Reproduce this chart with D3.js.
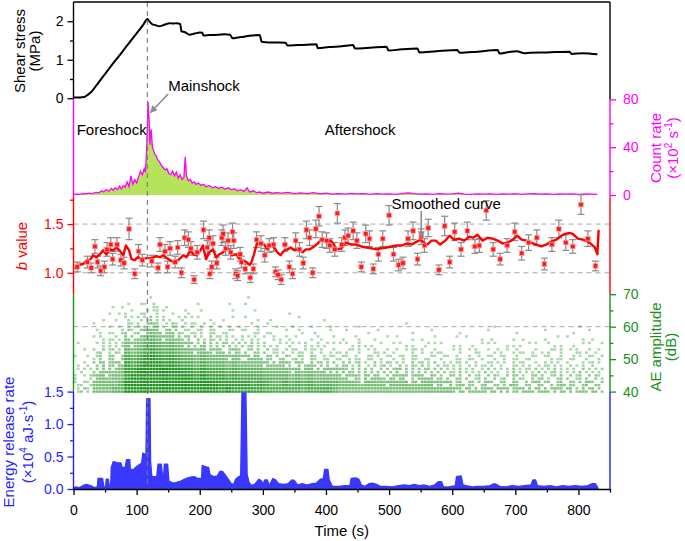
<!DOCTYPE html>
<html>
<head>
<meta charset="utf-8">
<script src="https://cdn.jsdelivr.net/npm/d3@7"></script>
<style>
  body { margin: 0; background: #fff; }
  svg { display: block; font-family: Arial, "Liberation Sans", sans-serif; }
</style>
</head>
<body>
<svg id="chart"></svg>
<script>
"use strict";

// ---- data ----
const mainshockTime = 117;

// shear stress (MPa)
const stressTime = [0,10,17,21,25,30,37,50,63,77,90,104,111,117,120,125,130,136,144,152,158,163,169,171,176,184,192,200,204,206,215,230,240,248,252,258,270,283,295,298,310,325,336,339,355,370,385,387,405,425,443,446,470,496,499,520,545,548,575,608,612,640,672,675,690,702,715,723,750,786,789,807,830];
const stressValue = [0.02,0.02,0.03,0.07,0.12,0.2,0.35,0.63,0.91,1.2,1.48,1.77,1.92,2.06,2.0,1.92,1.9,1.87,1.91,1.95,1.94,1.95,1.93,1.74,1.72,1.65,1.68,1.71,1.7,1.63,1.64,1.65,1.66,1.65,1.56,1.57,1.6,1.63,1.64,1.47,1.45,1.45,1.44,1.37,1.38,1.39,1.4,1.3,1.33,1.35,1.38,1.29,1.31,1.34,1.24,1.27,1.29,1.19,1.22,1.25,1.18,1.21,1.25,1.16,1.2,1.22,1.17,1.18,1.19,1.21,1.15,1.17,1.14];

// AE count rate (x10^2 /s)
const countTime = [0,5,10,15,20,25,30,35,40,45,48,52,56,60,63,66,70,73,76,79,82,85,88,91,94,97,100,103,106,109,112,114,116,117,118,119,120,121,122,123,124,125,127,129,131,133,136,139,142,145,148,151,154,157,160,163,166,169,172,175,177,179,182,185,188,191,194,198,202,206,210,215,220,225,230,235,240,245,250,255,260,265,270,275,279,285,290,295,300,308,315,322,330,340,350,360,370,380,390,400,410,420,430,440,450,460,470,480,490,500,510,520,530,540,550,560,570,580,590,600,610,620,630,640,650,660,670,680,690,700,710,720,730,740,750,760,770,780,790,800,810,820,830];
const countRate = [0.5,0.8,0.6,1.2,1.0,1.5,1.2,2.2,1.8,3.5,2.5,4.5,3.2,5.5,4.0,6.0,4.5,7.5,5.0,8.0,6.5,11,7,16,9,13,10,15,20,17,22,19,40,55,78,70,60,42,50,55,48,40,37,34,33,30,28,25,23,21,22,18,17,20,16,19,14,17,13,15,32,16,12,13,10,11,9,10,8,9,7,8,6,7,5.5,6.5,5,6,4.5,5,3.5,4.5,3,6,2.5,3.5,2,2.5,1.5,2.5,1.5,2,1.5,2.2,1.2,1.8,1.2,2,1,1.5,0.8,1.2,0.7,1.3,0.9,1.1,0.6,1.2,0.8,1.0,0.6,1.1,1.8,1.2,0.8,0.9,0.6,1.1,0.8,1.0,1.6,0.8,0.6,1.0,0.7,0.9,0.6,1.0,0.7,1.1,0.6,0.9,1.2,0.7,1.0,0.6,0.9,0.7,1.0,0.6,0.9,0.8,0.6];

// b value points with error
const bTime = [6,22,28,34,38,43,49,53,59,62,69,75,80,88,97,103,109,124,134,137,145,149,153,161,165,171,176,182,186,191,196,206,212,215,216,219,221,227,235,237,241,245,249,252,254,257,260,264,266,272,280,285,290,297,303,310,317,320,324,329,335,342,347,352,358,364,369,374,379,384,389,394,401,406,414,418,425,430,435,443,449,456,463,469,475,483,490,500,507,515,522,530,538,545,551,556,562,579,588,596,604,614,624,636,643,654,665,676,687,699,710,721,734,746,758,769,780,791,804,815,827];
const bValue = [1.06,1.11,1.05,1.27,1.11,1.02,1.06,1.24,1.29,1.14,1.29,1.13,1.10,1.45,0.99,1.22,1.13,1.12,1.05,1.29,1.22,1.06,1.25,1.11,1.26,1.00,1.36,1.34,1.25,0.93,1.21,1.44,1.26,1.36,0.99,1.06,1.30,1.10,1.36,1.40,1.25,1.33,1.21,1.42,1.33,0.99,0.97,1.19,1.11,1.04,0.95,1.04,1.34,1.30,1.18,1.28,1.29,1.01,0.98,0.93,1.29,1.06,0.99,1.33,1.24,1.10,1.44,1.36,1.00,1.45,1.58,1.34,1.33,1.28,1.24,1.61,1.29,1.36,1.38,1.43,1.33,1.06,1.40,1.35,1.04,1.19,1.35,1.59,1.19,1.08,1.10,1.35,1.43,1.14,1.37,1.28,1.46,1.03,1.48,1.11,1.42,1.24,1.43,1.27,1.28,1.64,1.24,1.14,1.28,1.42,1.20,1.31,1.36,1.09,1.29,1.45,1.31,1.27,1.70,1.35,1.07];
const bError = [0.05,0.06,0.05,0.07,0.06,0.05,0.06,0.07,0.07,0.06,0.07,0.06,0.06,0.11,0.05,0.07,0.06,0.06,0.05,0.07,0.07,0.06,0.07,0.06,0.07,0.05,0.08,0.08,0.07,0.04,0.07,0.09,0.07,0.08,0.05,0.06,0.08,0.06,0.08,0.09,0.07,0.08,0.07,0.09,0.08,0.05,0.05,0.07,0.06,0.05,0.05,0.05,0.08,0.08,0.07,0.07,0.07,0.05,0.05,0.05,0.07,0.06,0.05,0.08,0.07,0.06,0.09,0.08,0.05,0.09,0.1,0.08,0.08,0.07,0.07,0.1,0.07,0.08,0.08,0.09,0.08,0.05,0.09,0.08,0.05,0.07,0.08,0.1,0.07,0.06,0.06,0.08,0.09,0.06,0.08,0.07,0.09,0.05,0.1,0.06,0.09,0.07,0.09,0.07,0.07,0.1,0.07,0.06,0.07,0.09,0.07,0.08,0.08,0.06,0.07,0.09,0.08,0.07,0.1,0.08,0.05];

// smoothed b value curve
const smoothTime = [2,7.5,15,22,27,31,36,42,47,52,58,63,68,73,79,83,88,92,97,102,108,116,124,131,137,142,150,158,166,174,179,185,190,195,201,205,210,215,221,226,231,237,242,246,251,258,263,268,274,279,282,286,291,297,302,307,312,318,323,328,334,339,344,350,355,363,368,374,379,387,392,397,402,408,413,418,424,429,432,440,448,456,464,472,480,488,496,504,512,520,528,536,544,550,555,561,567,574,581,589,596,603,611,619,627,633,640,648,656,664,672,680,688,696,703,710,718,725,733,741,749,757,765,773,779,786,791,799,807,815,821,826,830,832];
const smoothValue = [1.04,1.08,1.09,1.13,1.14,1.18,1.16,1.19,1.23,1.19,1.24,1.23,1.26,1.23,1.18,1.28,1.23,1.14,1.13,1.16,1.14,1.15,1.15,1.17,1.16,1.18,1.14,1.11,1.13,1.18,1.16,1.23,1.19,1.18,1.23,1.28,1.14,1.21,1.24,1.16,1.19,1.21,1.26,1.24,1.18,1.19,1.14,1.13,1.11,1.08,1.11,1.19,1.31,1.29,1.29,1.24,1.29,1.26,1.21,1.18,1.23,1.24,1.26,1.23,1.24,1.21,1.24,1.24,1.26,1.30,1.34,1.33,1.31,1.33,1.28,1.24,1.25,1.29,1.31,1.29,1.29,1.27,1.26,1.25,1.24,1.25,1.26,1.27,1.28,1.28,1.30,1.29,1.32,1.34,1.31,1.29,1.33,1.33,1.29,1.33,1.38,1.34,1.35,1.33,1.37,1.36,1.39,1.33,1.36,1.35,1.33,1.30,1.31,1.34,1.38,1.34,1.33,1.31,1.29,1.27,1.29,1.32,1.34,1.38,1.40,1.41,1.40,1.35,1.34,1.32,1.29,1.26,1.19,1.44];

// AE amplitude: hit density per 10 s bin (columns) and 2 dB band (rows, top = 68 dB)
const ampLevels = [68,66,64,62,60,58,56,54,52,50,48,46,44,42,40];
const ampBin = 10;
const ampRows = [
  "000|00000|000|010|0000|00000|0000100|000000000000|000000000000000000|0000000000000000000000000",
  "000|00011|101|121|1000|01000|0100100|000000000000|000000000000000000|0000000000000000000000000",
  "000|00101|111|212|1101|10100|0010010|000010000000|000000000000000000|0000000000000000000000000",
  "000|01010|212|232|2112|11010|1010101|010001000100|000000000000000000|0000000000000000000000000",
  "000|10101|222|343|2322|21211|1101011|101010010010|000100000010000000|0000001000000000000010000",
  "000|11112|323|454|3432|22222|1211112|110101101010|010010100001001000|0100010000100010000101000",
  "000|12121|434|565|4543|33232|2222121|121111011101|101101010101010100|1010101001010010101010100",
  "100|12222|545|676|5654|43433|3323232|212121212111|111211101111011110|1101111011101101110111010",
  "010|23232|656|787|6765|54544|4343333|322222221212|121212121112121210|1212111211211112121212110",
  "101|23333|767|898|7876|65655|5454444|333323232222|222122212122212121|2121212121212112121212120",
  "111|34344|878|999|8987|76766|6565555|444434343333|332323232323232322|2222122212221222212121210",
  "121|34445|889|999|9998|87877|7676666|555545454444|433333333433333332|2322232223222322322232220",
  "212|45455|899|999|9999|98988|8787777|666656565555|444344434443444333|3332333233323332333233320",
  "222|55556|999|999|9999|99999|8888878|766767676666|555455545554455444|3433343334333433343334330",
  "232|55566|999|999|9999|99999|8988888|777777677776|555555555555555555|4444444443444443444343430"
].map(r => r.replace(/\|/g, ""));

// energy release rate (x10^4 aJ/s)
const energyTime = [0,3,10,15,20,27,33,38,39,46,48,51,52,55,57,59,60,63,70,75,77,82,84,89,90,96,98,104,108,110,114,115,116,121,122,124,132,134,139,141,143,144,149,151,158,163,170,178,185,191,197,203,204,210,214,216,222,228,232,236,240,245,250,254,257,262,265,266,267,273,275,278,282,288,294,298,300,303,307,310,316,320,325,333,340,346,350,355,362,370,378,385,391,396,398,403,405,410,420,430,438,440,447,452,456,462,468,474,480,486,495,505,515,525,532,540,548,556,564,572,578,583,586,595,605,607,614,617,622,632,640,650,660,666,670,675,685,695,705,715,725,728,732,735,745,755,765,775,785,795,805,815,822,827,831];
const energyRate = [0.01,0.03,0.02,0.05,0.07,0.05,0.02,0.03,0.16,0.16,0.03,0.03,0.15,0.15,0.03,0.03,0.33,0.42,0.40,0.40,0.33,0.33,0.45,0.45,0.30,0.30,0.33,0.37,0.40,0.55,0.53,0.53,1.39,1.39,0.42,0.19,0.19,0.38,0.38,0.20,0.20,0.38,0.38,0.12,0.09,0.10,0.12,0.16,0.18,0.19,0.16,0.16,0.36,0.34,0.33,0.22,0.19,0.20,0.27,0.27,0.22,0.15,0.08,0.07,0.15,0.19,0.20,0.82,1.48,1.48,0.22,0.10,0.05,0.08,0.15,0.12,0.06,0.14,0.14,0.05,0.16,0.14,0.08,0.07,0.08,0.14,0.13,0.06,0.08,0.06,0.08,0.09,0.15,0.16,0.30,0.30,0.14,0.04,0.04,0.05,0.05,0.16,0.17,0.15,0.06,0.04,0.08,0.09,0.07,0.04,0.04,0.03,0.05,0.06,0.05,0.07,0.05,0.06,0.04,0.06,0.11,0.11,0.03,0.03,0.05,0.19,0.20,0.06,0.05,0.03,0.04,0.04,0.05,0.08,0.07,0.04,0.03,0.05,0.04,0.05,0.06,0.14,0.14,0.05,0.04,0.05,0.03,0.05,0.04,0.05,0.04,0.05,0.08,0.08,0.01];

// ---- layout ----
const width = 685;
const height = 541;
const margin = { top: 2, right: 75, bottom: 52, left: 73.5 };
const panelH = (height - margin.top - margin.bottom) / 5;
const panelTop = (i) => margin.top + i * panelH;
const panelRange = (i) => [panelTop(i) + panelH, panelTop(i)];
const x0 = margin.left, x1 = width - margin.right;
const yBottom = height - margin.bottom;

const FONT = 'Arial, "Liberation Sans", sans-serif';
const BLACK = "#000", MAGENTA = "#ff00ff", RED = "#ff0000", GREEN = "#1b8f1b", BLUE = "#1f1fff";

const x = d3.scaleLinear().domain([0, 850]).range([x0, x1]);
const yStress = d3.scaleLinear().domain([-0.03, 2.5]).range(panelRange(0));
const yCount = d3.scaleLinear().domain([-1.5, 80]).range(panelRange(1));
const yB = d3.scaleLinear().domain([0.78, 1.78]).range(panelRange(2));
const yAmp = d3.scaleLinear().domain([40, 70]).range(panelRange(3));
const yE = d3.scaleLinear().domain([0, 1.5]).range(panelRange(4));

const svg = d3.select("#chart").attr("width", width).attr("height", height);

// ---- dashed guides ----
const guides = svg.append("g").attr("stroke", "#a8a8a8").attr("stroke-dasharray", "5,4").attr("stroke-width", 1);
[1.0, 1.5].forEach((v) => guides.append("line").attr("x1", x0).attr("x2", x1).attr("y1", yB(v)).attr("y2", yB(v)));
guides.append("line").attr("x1", x0).attr("x2", x1).attr("y1", yAmp(60)).attr("y2", yAmp(60));

// ---- AE amplitude scatter ----
// density digit -> how many of the 4 slots of a cell get a hit, and their opacity
const slotCount = [0, 1, 2, 2, 3, 4, 4, 4, 4, 4];
const slotAlpha = [0, 0.35, 0.38, 0.48, 0.55, 0.6, 0.7, 0.8, 0.9, 1.0];
const subT = [2.5, 7.5, 7.5, 2.5];
const subA = [0, 1, 0, 1];
const hits = [];
ampRows.forEach((row, ri) => {
  for (let ci = 0; ci < row.length; ci++) {
    const d = +row[ci];
    if (!d) continue;
    const start = (ci * 5 + ri * 3 + ci * ri + (ci >> 2)) % 4;
    for (let k = 0; k < slotCount[d]; k++) {
      const s = (start + k * 3) % 4;
      hits.push({ t: ci * ampBin + subT[s], a: ampLevels[ri] + subA[s], d });
    }
  }
});
svg.append("g")
  .selectAll("rect")
  .data(hits)
  .join("rect")
  .attr("x", (d) => x(d.t) - 1.45)
  .attr("y", (d) => yAmp(d.a) - 1.2)
  .attr("width", 2.9)
  .attr("height", 2.4)
  .attr("fill", "#179017")
  .attr("fill-opacity", (d) => slotAlpha[d.d]);

// ---- count rate ----
const countData = countTime.map((t, i) => ({ t, v: countRate[i] }));
svg.append("path")
  .datum(countData)
  .attr("fill", "#b5e35a")
  .attr("d", d3.area().x((d) => x(d.t)).y0(yCount(0)).y1((d) => yCount(d.v)));
svg.append("path")
  .datum(countData)
  .attr("fill", "none")
  .attr("stroke", MAGENTA)
  .attr("stroke-width", 1.3)
  .attr("d", d3.line().x((d) => x(d.t)).y((d) => yCount(d.v)));

// ---- shear stress ----
svg.append("path")
  .datum(stressTime.map((t, i) => ({ t, v: stressValue[i] })))
  .attr("fill", "none")
  .attr("stroke", BLACK)
  .attr("stroke-width", 2)
  .attr("stroke-linejoin", "round")
  .attr("d", d3.line().curve(d3.curveMonotoneX).x((d) => x(d.t)).y((d) => yStress(d.v)));

// ---- b value ----
const bData = bTime.map((t, i) => ({ t, v: bValue[i], e: bError[i] }));
const eb = svg.append("g").attr("stroke", "#8a8a8a").attr("stroke-width", 1.2);
eb.selectAll("line.bar").data(bData).join("line").attr("class", "bar")
  .attr("x1", (d) => x(d.t)).attr("x2", (d) => x(d.t))
  .attr("y1", (d) => yB(d.v - d.e)).attr("y2", (d) => yB(d.v + d.e));
eb.selectAll("line.capHi").data(bData).join("line").attr("class", "capHi")
  .attr("x1", (d) => x(d.t) - 3.5).attr("x2", (d) => x(d.t) + 3.5)
  .attr("y1", (d) => yB(d.v + d.e)).attr("y2", (d) => yB(d.v + d.e));
eb.selectAll("line.capLo").data(bData).join("line").attr("class", "capLo")
  .attr("x1", (d) => x(d.t) - 3.5).attr("x2", (d) => x(d.t) + 3.5)
  .attr("y1", (d) => yB(d.v - d.e)).attr("y2", (d) => yB(d.v - d.e));

svg.append("path")
  .datum(smoothTime.map((t, i) => ({ t, v: smoothValue[i] })))
  .attr("fill", "none")
  .attr("stroke", RED)
  .attr("stroke-width", 2.4)
  .attr("stroke-linejoin", "round")
  .attr("d", d3.line().x((d) => x(d.t)).y((d) => yB(d.v)));

svg.append("g")
  .selectAll("rect")
  .data(bData)
  .join("rect")
  .attr("x", (d) => x(d.t) - 2.3)
  .attr("y", (d) => yB(d.v) - 2.3)
  .attr("width", 4.6)
  .attr("height", 4.6)
  .attr("fill", "#ff1a1a")
  .attr("stroke", "#ffa0a0")
  .attr("stroke-width", 0.8);

// ---- energy release rate ----
svg.append("path")
  .datum(energyTime.map((t, i) => ({ t, v: energyRate[i] })))
  .attr("fill", "#3838ff")
  .attr("stroke", "#3838ff")
  .attr("stroke-width", 1.5)
  .attr("stroke-linejoin", "round")
  .attr("d", d3.area().x((d) => x(d.t)).y0(yE(0)).y1((d) => yE(d.v)));

// ---- mainshock line ----
svg.append("line")
  .attr("x1", x(mainshockTime)).attr("x2", x(mainshockTime))
  .attr("y1", margin.top).attr("y2", yBottom)
  .attr("stroke", "#7a7a7a").attr("stroke-width", 1.1).attr("stroke-dasharray", "5,4");

// ---- axes ----
function sideAxis(side, scale, color, major, minor, fmt) {
  const xPos = side === "left" ? x0 : x1;
  const make = side === "left" ? d3.axisLeft : d3.axisRight;
  const [ya, yb] = scale.range();
  svg.append("line").attr("x1", xPos).attr("x2", xPos).attr("y1", ya).attr("y2", yb)
    .attr("stroke", color).attr("stroke-width", 1.4);
  if (!major) return;
  const g = svg.append("g").attr("transform", `translate(${xPos},0)`)
    .call(make(scale).tickValues(major).tickSize(6).tickPadding(side === "left" ? 4 : 7).tickFormat(fmt));
  g.select(".domain").remove();
  g.attr("color", color).attr("font-size", 14).attr("font-family", FONT);
  g.selectAll("line").attr("stroke-width", 1.3);
  const gm = svg.append("g").attr("transform", `translate(${xPos},0)`)
    .call(make(scale).tickValues(minor).tickSize(3.5).tickFormat(""));
  gm.select(".domain").remove();
  gm.attr("color", color).selectAll("line").attr("stroke-width", 1.3);
}
const f0 = d3.format("d"), f1 = d3.format(".1f");
sideAxis("left", yStress, BLACK, [0, 1, 2], [0.5, 1.5], f0);
sideAxis("right", yStress, BLACK);
sideAxis("left", yCount, MAGENTA);
sideAxis("right", yCount, MAGENTA, [0, 40, 80], [20, 60], f0);
sideAxis("left", yB, RED, [1.0, 1.5], [1.25, 1.75], f1);
sideAxis("right", yB, RED);
sideAxis("left", yAmp, GREEN);
sideAxis("right", yAmp, GREEN, [40, 50, 60, 70], [45, 55, 65], f0);
sideAxis("left", yE, BLUE, [0, 0.5, 1.0, 1.5], [0.25, 0.75, 1.25], f1);
sideAxis("right", yE, BLUE);

// top frame
svg.append("line").attr("x1", x0).attr("x2", x1).attr("y1", margin.top).attr("y2", margin.top)
  .attr("stroke", BLACK).attr("stroke-width", 1.3);

// x axis
const xg = svg.append("g").attr("transform", `translate(0,${yBottom})`)
  .call(d3.axisBottom(x).tickValues(d3.range(0, 801, 100)).tickSize(6).tickPadding(10).tickSizeOuter(0));
xg.attr("font-size", 14).attr("font-family", FONT);
xg.selectAll("line, path").attr("stroke-width", 1.3);
const xgm = svg.append("g").attr("transform", `translate(0,${yBottom})`)
  .call(d3.axisBottom(x).tickValues(d3.range(50, 851, 100)).tickSize(3.5).tickFormat(""));
xgm.select(".domain").remove();
xgm.selectAll("line").attr("stroke-width", 1.3);

svg.append("text")
  .attr("x", (x0 + x1) / 2).attr("y", 536)
  .attr("text-anchor", "middle").attr("font-size", 15).attr("font-family", FONT)
  .text("Time (s)");

// ---- axis titles ----
function vTitle(cx, cy, color, parts) {
  const t = svg.append("text")
    .attr("transform", `translate(${cx},${cy}) rotate(-90)`)
    .attr("text-anchor", "middle").attr("dy", "0.35em")
    .attr("font-size", 15).attr("font-family", FONT).attr("fill", color);
  let raised = false;
  parts.forEach(([s, kind]) => {
    const sp = t.append("tspan").text(s);
    if (kind === "sup") {
      sp.attr("font-size", 10).attr("dy", raised ? 0 : -6);
      raised = true;
    } else {
      if (raised) sp.attr("dy", 6);
      raised = false;
      if (kind === "i") sp.attr("font-style", "italic");
    }
  });
}
vTitle(19.5, 51, BLACK, [["Shear stress"]]);
vTitle(35, 51, BLACK, [["(MPa)"]]);
vTitle(656, 148, MAGENTA, [["Count rate"]]);
vTitle(673, 148, MAGENTA, [["(×10"], ["2", "sup"], [" s"], ["-1", "sup"], [")"]]);
vTitle(21.5, 246, RED, [["b", "i"], [" value"]]);
vTitle(656, 347, GREEN, [["AE amplitude"]]);
vTitle(671, 347, GREEN, [["(dB)"]]);
vTitle(9, 442, BLUE, [["Energy release rate"]]);
vTitle(28, 442, BLUE, [["(×10"], ["4", "sup"], [" aJ·s"], ["-1", "sup"], [")"]]);

// ---- annotations ----
const note = (tx, ty, s) => svg.append("text").attr("x", tx).attr("y", ty)
  .attr("font-size", 15).attr("font-family", FONT).attr("fill", BLACK).text(s);
note(x(150), yStress(0.18), "Mainshock");
note(x(5), yCount(50), "Foreshock");
note(x(398), yCount(50), "Aftershock");
note(x(504), yB(1.655), "Smoothed curve");

svg.append("defs").append("marker")
  .attr("id", "head").attr("viewBox", "0 0 10 10").attr("refX", 9).attr("refY", 5)
  .attr("markerWidth", 4.5).attr("markerHeight", 4.5).attr("orient", "auto-start-reverse")
  .append("path").attr("d", "M0,0L10,5L0,10Z").attr("fill", "#8c8c8c");

const arrow = (ta, va, ya, tb, vb, yb) => svg.append("line")
  .attr("x1", x(ta)).attr("y1", ya(va)).attr("x2", x(tb)).attr("y2", yb(vb))
  .attr("stroke", "#8c8c8c").attr("stroke-width", 1.6).attr("marker-end", "url(#head)");
arrow(150, 84.5, yCount, 122, 69, yCount);
arrow(551, 1.635, yB, 551, 1.36, yB);
</script>
</body>
</html>
